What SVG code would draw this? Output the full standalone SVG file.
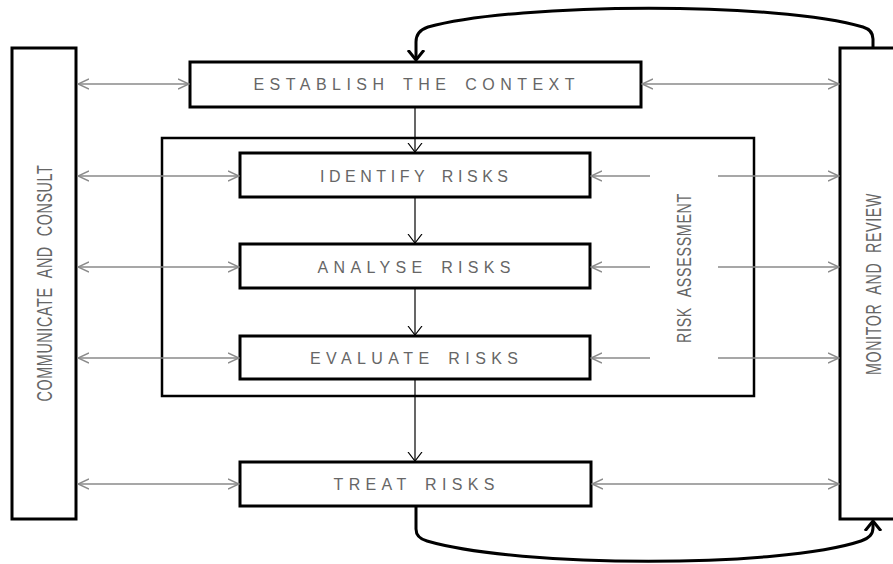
<svg xmlns="http://www.w3.org/2000/svg" width="893" height="564" viewBox="0 0 893 564">
<style>
.box{fill:#fff;stroke:#000;stroke-width:3}
.outer{fill:none;stroke:#000;stroke-width:2.5}
.t{font-family:"Liberation Sans",Arial,sans-serif;font-size:16px;letter-spacing:4px;word-spacing:4px;fill:#666;text-anchor:middle;dominant-baseline:central}
.v{font-family:"Liberation Sans",Arial,sans-serif;fill:#666;text-anchor:middle;dominant-baseline:central;word-spacing:8px;letter-spacing:1px}
.g{stroke:#8a8a8a;stroke-width:1.5;fill:none}
.k{stroke:#000;stroke-width:1.2;fill:none}
.loop{stroke:#000;stroke-width:3;fill:none}
</style>
<defs>
<marker id="ga" viewBox="0 0 12 12" refX="11" refY="6" markerWidth="12" markerHeight="12" markerUnits="userSpaceOnUse" orient="auto-start-reverse">
<path d="M0,1 L11,6 L0,11" fill="none" stroke="#8a8a8a" stroke-width="1.5"/>
</marker>
<marker id="ka" viewBox="0 0 10 16" refX="9" refY="8" markerWidth="10" markerHeight="16" markerUnits="userSpaceOnUse" orient="auto">
<path d="M0,1 L9,8 L0,15" fill="none" stroke="#000" stroke-width="1.2"/>
</marker>
<marker id="ba" viewBox="0 0 12 20" refX="10" refY="10" markerWidth="12" markerHeight="20" markerUnits="userSpaceOnUse" orient="auto">
<path d="M0,2 L10,10 L0,18" fill="none" stroke="#000" stroke-width="3"/>
</marker>
</defs>

<g id="risk-assessment">
<rect class="outer" x="162" y="138" width="592" height="258"/>
<text class="v" font-size="20" transform="translate(684,268) rotate(-90)" textLength="150" lengthAdjust="spacingAndGlyphs">RISK ASSESSMENT</text>
</g>

<g id="communicate">
<rect class="box" x="12" y="48" width="64" height="471"/>
<text class="v" font-size="22" transform="translate(44,283) rotate(-90)" textLength="237" lengthAdjust="spacingAndGlyphs">COMMUNICATE AND CONSULT</text>
</g>

<g id="monitor">
<rect class="box" x="840" y="48" width="70" height="471"/>
<text class="v" font-size="22" transform="translate(873,284) rotate(-90)" textLength="182" lengthAdjust="spacingAndGlyphs">MONITOR AND REVIEW</text>
</g>

<g id="establish">
<rect class="box" x="190" y="62" width="451" height="45"/>
<text class="t" x="416" y="84" textLength="325" lengthAdjust="spacing">ESTABLISH THE CONTEXT</text>
</g>

<g id="identify">
<rect class="box" x="240" y="153" width="350" height="44"/>
<text class="t" x="416" y="176" textLength="192" lengthAdjust="spacing">IDENTIFY RISKS</text>
</g>

<g id="analyse">
<rect class="box" x="240" y="244" width="350" height="44"/>
<text class="t" x="416" y="267" textLength="197" lengthAdjust="spacing">ANALYSE RISKS</text>
</g>

<g id="evaluate">
<rect class="box" x="240" y="336" width="350" height="43"/>
<text class="t" x="416" y="358" textLength="212" lengthAdjust="spacing">EVALUATE RISKS</text>
</g>

<g id="treat">
<rect class="box" x="240" y="462" width="351" height="44"/>
<text class="t" x="416" y="484" textLength="165" lengthAdjust="spacing">TREAT RISKS</text>
</g>

<g id="connectors">
<line class="k" x1="415" y1="108" x2="415" y2="152" marker-end="url(#ka)"/>
<line class="k" x1="415" y1="198" x2="415" y2="243" marker-end="url(#ka)"/>
<line class="k" x1="415" y1="289" x2="415" y2="335" marker-end="url(#ka)"/>
<line class="k" x1="415" y1="380" x2="415" y2="461" marker-end="url(#ka)"/>
<line class="g" x1="78" y1="84" x2="189" y2="84" marker-start="url(#ga)" marker-end="url(#ga)"/>
<line class="g" x1="78" y1="176" x2="239" y2="176" marker-start="url(#ga)" marker-end="url(#ga)"/>
<line class="g" x1="78" y1="267" x2="239" y2="267" marker-start="url(#ga)" marker-end="url(#ga)"/>
<line class="g" x1="78" y1="358" x2="239" y2="358" marker-start="url(#ga)" marker-end="url(#ga)"/>
<line class="g" x1="78" y1="484" x2="239" y2="484" marker-start="url(#ga)" marker-end="url(#ga)"/>
<line class="g" x1="642" y1="84" x2="839" y2="84" marker-start="url(#ga)" marker-end="url(#ga)"/>
<line class="g" x1="592" y1="484" x2="839" y2="484" marker-start="url(#ga)" marker-end="url(#ga)"/>
<line class="g" x1="650" y1="176" x2="591" y2="176" marker-end="url(#ga)"/>
<line class="g" x1="718" y1="176" x2="839" y2="176" marker-end="url(#ga)"/>
<line class="g" x1="650" y1="267" x2="591" y2="267" marker-end="url(#ga)"/>
<line class="g" x1="718" y1="267" x2="839" y2="267" marker-end="url(#ga)"/>
<line class="g" x1="650" y1="358" x2="591" y2="358" marker-end="url(#ga)"/>
<line class="g" x1="718" y1="358" x2="839" y2="358" marker-end="url(#ga)"/>
<path class="loop" d="M873,48 V39 Q873,30 863,27 C780,2 520,2 428,27 Q416,31 416,42 V60" marker-end="url(#ba)"/>
<path class="loop" d="M416,507 V529 Q416,538 427,541 C520,568 780,568 861,541 Q873,537 873,528 V521" marker-end="url(#ba)"/>
</g>
</svg>
